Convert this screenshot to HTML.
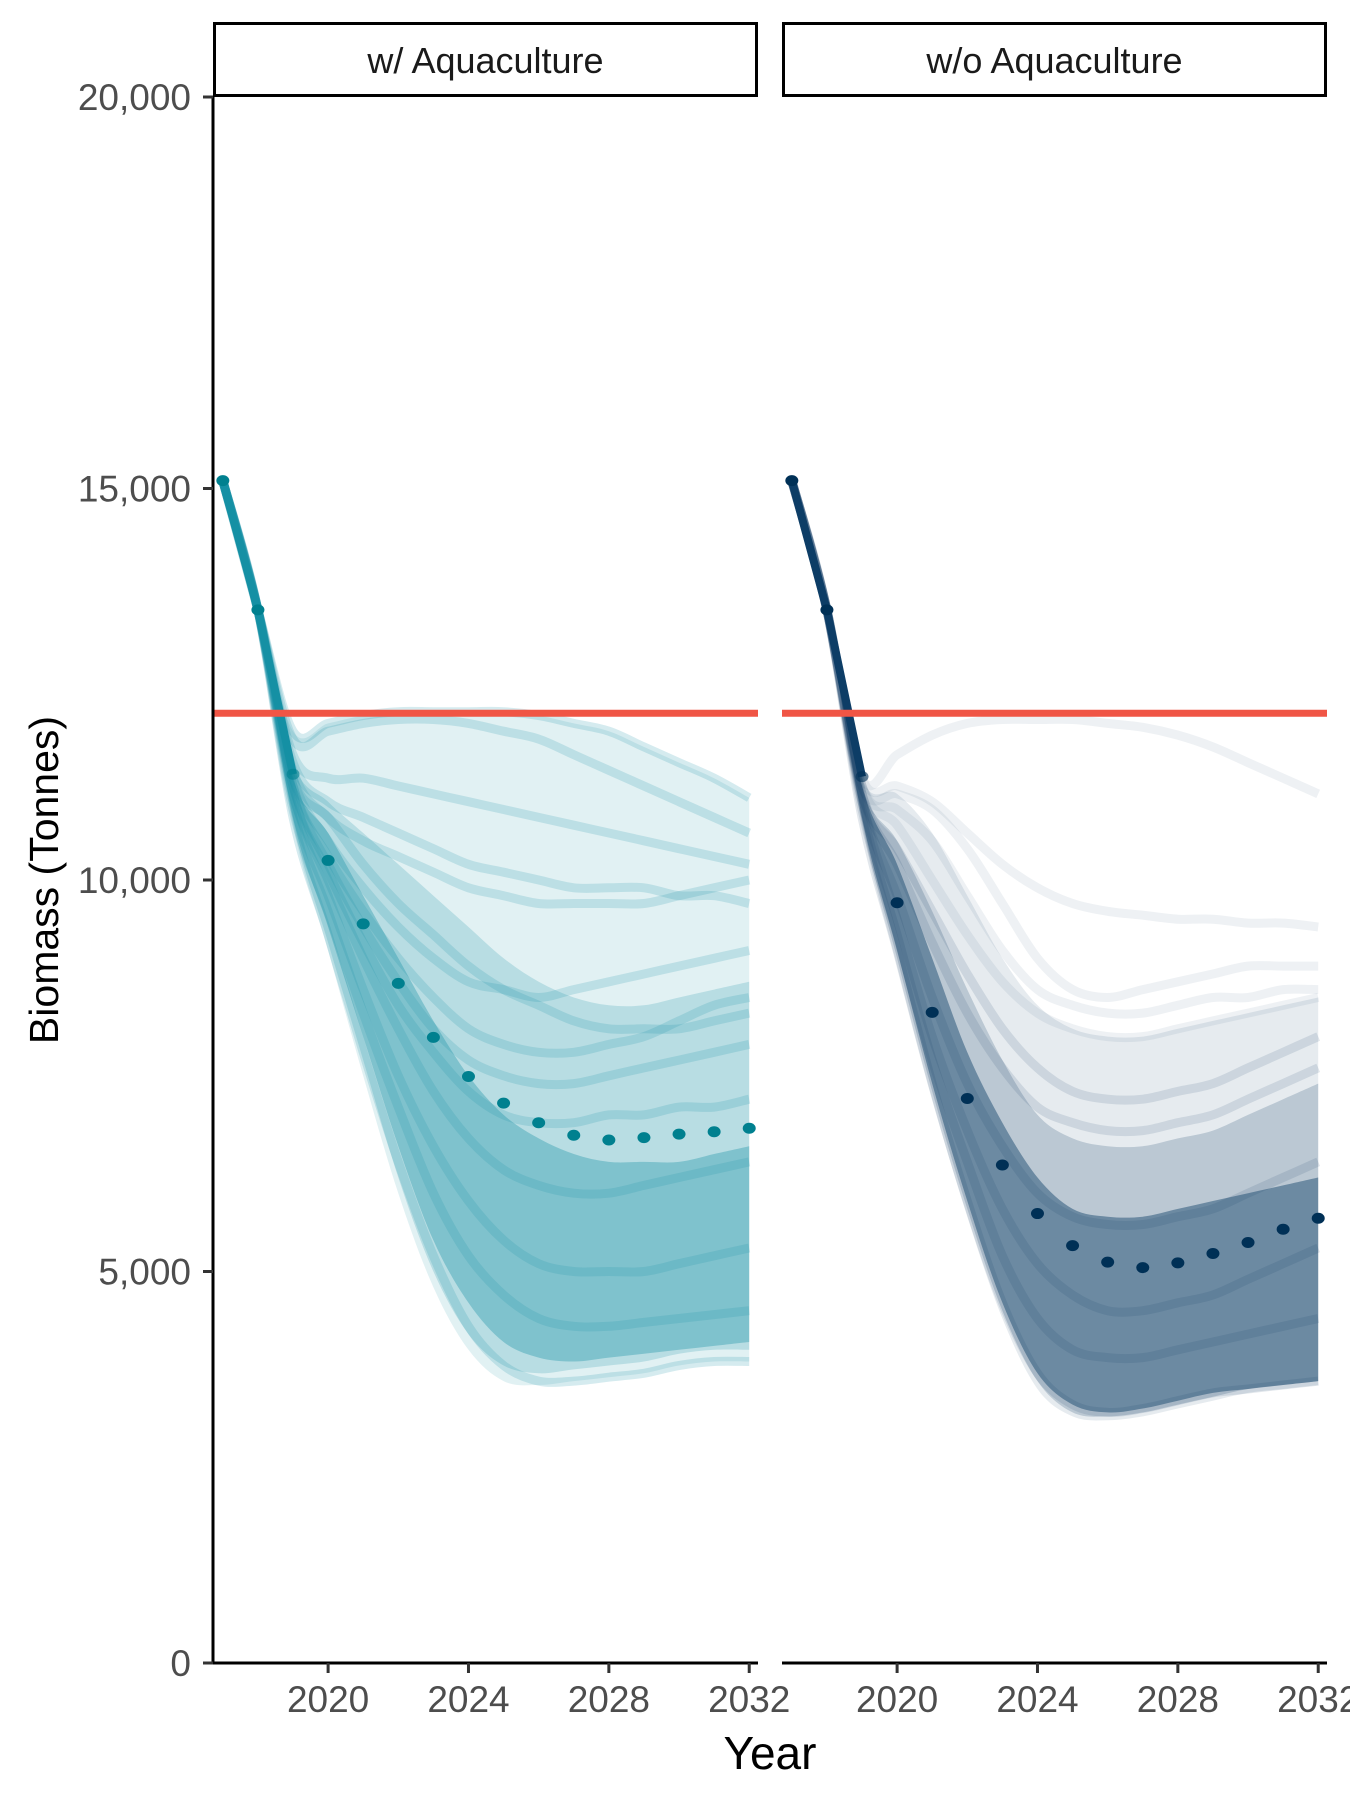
<!DOCTYPE html>
<html><head><meta charset="utf-8">
<style>
html,body{margin:0;padding:0;background:#fff;}
svg{display:block;font-family:"Liberation Sans",sans-serif;}
</style></head>
<body>
<svg id="chart" width="1350" height="1800" viewBox="0 0 1350 1800" xmlns="http://www.w3.org/2000/svg"></svg>
<script>
const years = [2017,2018,2019,2020,2021,2022,2023,2024,2025,2026,2027,2028,2029,2030,2031,2032];
const xTicks = [2020,2024,2028,2032];
const xTickLabels = ["2020","2024","2028","2032"];
const yTicks = [0,5000,10000,15000,20000];
const yTickLabels = ["0","5,000","10,000","15,000","20,000"];
const panelNames = ["w/ Aquaculture","w/o Aquaculture"];
const referenceLevel = 12130;
// medians (tonnes)
const medianWith = [15100,13450,11350,10250,9440,8680,7990,7490,7150,6900,6740,6680,6710,6755,6785,6830];
const medianWithout = [15100,13450,11320,9710,8310,7210,6360,5740,5330,5120,5050,5110,5230,5370,5540,5680];
// bands (thousands, 2019..2032)
const outerWithUpper = [11.9,12.0,12.1,12.15,12.15,12.15,12.15,12.1,12.0,11.9,11.7,11.5,11.3,11.05];
const outerWithLower = [10.7,9.1,7.5,6.0,4.8,4.0,3.6,3.55,3.6,3.65,3.7,3.8,3.85,3.85];
const midWithUpper = [11.5,11.0,10.6,10.2,9.8,9.4,9.0,8.7,8.5,8.4,8.4,8.5,8.6,8.7];
const midWithLower = [10.75,9.2,7.7,6.2,5.0,4.2,3.8,3.7,3.75,3.8,3.85,3.95,4.0,4.0];
const coreWithUpper = [11.3,10.6,9.8,9.0,8.2,7.5,7.0,6.7,6.5,6.4,6.4,6.4,6.5,6.6];
const coreWithLower = [10.8,9.4,8.0,6.6,5.4,4.6,4.1,3.9,3.85,3.9,3.95,4.0,4.05,4.1];
const outerWithoutUpper = [11.3,11.1,10.6,9.8,9.0,8.4,8.1,8.0,8.0,8.1,8.2,8.3,8.4,8.5];
const outerWithoutLower = [10.7,8.9,7.2,5.7,4.4,3.5,3.15,3.1,3.15,3.25,3.35,3.45,3.5,3.55];
const midWithoutUpper = [11.2,10.5,9.6,8.6,7.7,7.0,6.7,6.6,6.6,6.7,6.8,7.0,7.2,7.4];
const midWithoutLower = [10.75,9.0,7.3,5.8,4.5,3.6,3.2,3.15,3.2,3.3,3.4,3.5,3.55,3.6];
const coreWithoutUpper = [11.2,10.2,9.0,7.8,6.9,6.2,5.8,5.7,5.7,5.8,5.9,6.0,6.1,6.2];
const coreWithoutLower = [10.8,9.1,7.4,5.9,4.6,3.7,3.3,3.2,3.25,3.35,3.45,3.5,3.55,3.6];
// representative trajectories (thousands, 2019..2032)
const trajWith = [
 [11.9,12.0,12.1,12.15,12.15,12.15,12.15,12.1,12.0,11.9,11.7,11.5,11.3,11.05],
 [11.8,11.9,12.0,12.05,12.05,12.0,11.9,11.8,11.6,11.4,11.2,11.0,10.8,10.6],
 [11.6,11.3,11.3,11.2,11.1,11.0,10.9,10.8,10.7,10.6,10.5,10.4,10.3,10.2],
 [11.5,11.0,10.8,10.6,10.4,10.2,10.1,10.0,9.9,9.9,9.9,9.8,9.8,9.7],
 [11.4,10.8,10.5,10.3,10.1,9.9,9.8,9.7,9.7,9.7,9.7,9.8,9.9,10.0],
 [11.3,10.8,10.2,9.7,9.3,8.9,8.6,8.4,8.2,8.1,8.1,8.1,8.2,8.3],
 [11.3,10.5,9.9,9.4,9.0,8.7,8.6,8.5,8.6,8.7,8.8,8.9,9.0,9.1],
 [11.2,10.2,9.4,8.7,8.1,7.7,7.5,7.4,7.4,7.5,7.6,7.7,7.8,7.9],
 [11.2,10.3,9.6,9.0,8.5,8.1,7.9,7.8,7.8,7.9,8.0,8.2,8.4,8.5],
 [11.1,10.0,9.0,8.1,7.3,6.7,6.3,6.1,6.0,6.0,6.1,6.2,6.3,6.4],
 [11.1,10.1,9.2,8.4,7.8,7.3,7.0,6.9,6.9,7.0,7.0,7.1,7.1,7.2],
 [11.0,9.8,8.6,7.5,6.6,5.9,5.4,5.1,5.0,5.0,5.0,5.1,5.2,5.3],
 [10.9,9.6,8.3,7.1,6.0,5.2,4.7,4.4,4.3,4.3,4.35,4.4,4.45,4.5],
 [10.8,9.3,7.8,6.4,5.2,4.3,3.8,3.6,3.6,3.65,3.7,3.8,3.85,3.85]
];
const trajWithout = [
 [11.3,11.6,11.85,12.0,12.05,12.05,12.05,12.0,11.95,11.85,11.7,11.5,11.3,11.1],
 [11.3,11.2,11.0,10.6,10.2,9.9,9.7,9.6,9.55,9.5,9.5,9.45,9.45,9.4],
 [11.2,11.1,10.9,10.4,9.7,9.0,8.6,8.5,8.6,8.7,8.8,8.9,8.9,8.9],
 [11.2,10.9,10.5,9.8,9.1,8.6,8.4,8.3,8.3,8.4,8.5,8.5,8.6,8.6],
 [11.2,10.7,10.0,9.3,8.7,8.3,8.1,8.0,8.0,8.1,8.2,8.3,8.4,8.5],
 [11.1,10.4,9.6,8.8,8.1,7.6,7.3,7.2,7.2,7.3,7.4,7.6,7.8,8.0],
 [11.1,10.2,9.2,8.3,7.6,7.1,6.9,6.8,6.8,6.9,7.0,7.2,7.4,7.6],
 [11.0,9.8,8.5,7.4,6.6,6.0,5.7,5.6,5.6,5.7,5.8,6.0,6.2,6.4],
 [11.0,9.5,8.0,6.8,5.8,5.1,4.7,4.5,4.5,4.6,4.7,4.9,5.1,5.3],
 [10.9,9.3,7.7,6.4,5.2,4.4,4.0,3.9,3.9,4.0,4.1,4.2,4.3,4.4],
 [10.8,9.1,7.4,5.9,4.6,3.7,3.3,3.2,3.25,3.35,3.45,3.5,3.55,3.6]
];

const NS = "http://www.w3.org/2000/svg";
const svg = document.getElementById("chart");
const Y0 = 1663, YTOP = 97;
const panels = [{x0:213,x1:758,color:"#1590a4",dot:"#00808f",alpha:0.18,
                 bands:[[outerWithUpper,outerWithLower,0.13],[midWithUpper,midWithLower,0.2],[coreWithUpper,coreWithLower,0.35]],
                 traj:trajWith,med:medianWith},
                {x0:782,x1:1327,color:"#0d3d66",dot:"#003056",alpha:0.12,
                 bands:[[outerWithoutUpper,outerWithoutLower,0.1],[midWithoutUpper,midWithoutLower,0.2],[coreWithoutUpper,coreWithoutLower,0.45]],
                 traj:trajWithout,med:medianWithout}];
const domainStart = 2016.72, domainEnd = 2032.25;
function yScale(v){ return Y0 - v/20000*(Y0-YTOP); }
function xScale(p,yr){ return p.x0 + (yr-domainStart)/(domainEnd-domainStart)*(p.x1-p.x0); }
function el(tag,attrs,parent){ const e=document.createElementNS(NS,tag); for(const k in attrs) e.setAttribute(k,attrs[k]); (parent||svg).appendChild(e); return e; }
function smoothSeg(pts, move){
  let d = (move?"M":"L")+pts[0][0].toFixed(1)+","+pts[0][1].toFixed(1);
  for(let i=0;i<pts.length-1;i++){
    const p0=pts[Math.max(0,i-1)],p1=pts[i],p2=pts[i+1],p3=pts[Math.min(pts.length-1,i+2)];
    const c1=[p1[0]+(p2[0]-p0[0])/6,p1[1]+(p2[1]-p0[1])/6];
    const c2=[p2[0]-(p3[0]-p1[0])/6,p2[1]-(p3[1]-p1[1])/6];
    d+=" C"+c1[0].toFixed(1)+","+c1[1].toFixed(1)+" "+c2[0].toFixed(1)+","+c2[1].toFixed(1)+" "+p2[0].toFixed(1)+","+p2[1].toFixed(1);
  }
  return d;
}

panels.forEach((p,pi)=>{
  const g = el("g",{});
  
  
  const s0=[xScale(p,2017),yScale(p.med[0])], s1=[xScale(p,2018),yScale(p.med[1])];
  p.bands.forEach(b=>{
    const up=[s1].concat(b[0].map((v,i)=>[xScale(p,years[i+2]),yScale(v*1000)]));
    const lo=b[1].map((v,i)=>[xScale(p,years[i+2]),yScale(v*1000)]).reverse().concat([s1]);
    const d=smoothSeg(up,true)+" "+smoothSeg(lo,false)+" Z";
    const band = el("path",{d:d,fill:p.color,"fill-opacity":b[2]},g);
    
    
  });
  p.traj.forEach((t,ti)=>{
    const pts=[s0,s1].concat(t.map((v,i)=>[xScale(p,years[i+2]),yScale(v*1000)]));
    const path = el("path",{d:smoothSeg(pts,true),fill:"none",stroke:p.color,"stroke-width":9,"stroke-opacity":(pi===1&&ti<5)?0.07:p.alpha,"stroke-linejoin":"round"},g);
    
    
  });
  const ln = el("path",{d:"M"+s0[0]+","+s0[1]+" L"+s1[0]+","+s1[1]+" L"+xScale(p,2019)+","+yScale(p.med[2]),stroke:p.color,"stroke-width":8,fill:"none"},g);
  
  
  const ref = el("line",{x1:p.x0,x2:p.x1,y1:yScale(referenceLevel),y2:yScale(referenceLevel),stroke:"#f05545","stroke-width":7},g);
  
  
  p.med.forEach((v,i)=>{
    const c = el("ellipse",{cx:xScale(p,years[i]),cy:yScale(v),rx:6.5,ry:5.5,fill:p.dot,"fill-opacity":i===2?0.6:1},g);
    
    
  });
  const strip = el("rect",{x:p.x0+1.5,y:23.5,width:p.x1-p.x0-3,height:72,fill:"#fff",stroke:"#000","stroke-width":3},g);
  
  
  const st = el("text",{x:(p.x0+p.x1)/2,y:73,"text-anchor":"middle","font-size":36,fill:"#1a1a1a"},g);
  st.textContent = panelNames[pi];
  
  
  const ax = el("line",{x1:p.x0,x2:p.x1,y1:Y0,y2:Y0,stroke:"#000","stroke-width":3},g);
  
  
  xTicks.forEach((t,i)=>{
    const tk = el("line",{x1:xScale(p,t),x2:xScale(p,t),y1:Y0,y2:Y0+10,stroke:"#333","stroke-width":3},g);
    
    
    const tl = el("text",{x:xScale(p,t),y:1712,"text-anchor":"middle","font-size":37,fill:"#4d4d4d"},g);
    tl.textContent = xTickLabels[i];
    
    
  });
});
const yax = el("line",{x1:213,x2:213,y1:YTOP,y2:Y0+1.5,stroke:"#000","stroke-width":3});


yTicks.forEach((t,i)=>{
  const tk = el("line",{x1:203,x2:213,y1:yScale(t),y2:yScale(t),stroke:"#333","stroke-width":3});
  
  
  const tl = el("text",{x:191,y:yScale(t)+13,"text-anchor":"end","font-size":37,fill:"#4d4d4d"});
  tl.textContent = yTickLabels[i];
  
  
});
const xt = el("text",{x:770,y:1769,"text-anchor":"middle","font-size":46,fill:"#000"});
xt.textContent = "Year";


const yt = el("text",{x:0,y:0,"text-anchor":"middle","font-size":41,fill:"#000",transform:"translate(58,880) rotate(-90)"});
yt.textContent = "Biomass (Tonnes)";


</script>
</body></html>
